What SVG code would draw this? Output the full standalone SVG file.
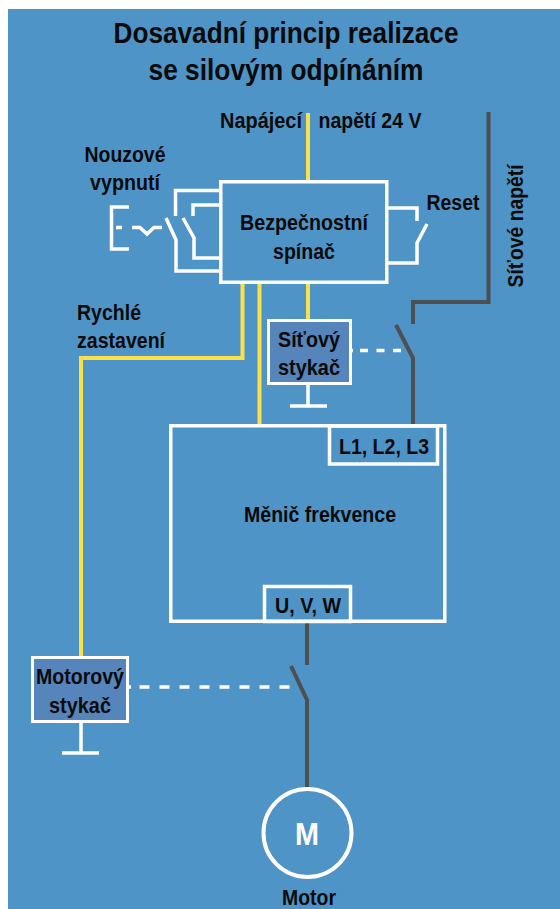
<svg xmlns="http://www.w3.org/2000/svg" width="560" height="909" viewBox="0 0 560 909">
<style>
text{font-family:"Liberation Sans",Arial,sans-serif;font-weight:700;fill:#0a0a0a;font-size:22.500px;text-anchor:middle}
.t{font-size:29px}
.b{fill:none;stroke:#fff;stroke-width:3.5}
.w{fill:none;stroke:#fff;stroke-width:3.5}
.y{fill:none;stroke:#fde047;stroke-width:4}
.g{fill:none;stroke:#4d4f53;stroke-width:4}
.s{fill:#5585bb;stroke:#fff;stroke-width:3}
.d{fill:none;stroke:#fff;stroke-width:3.5}
</style>
<rect x="8" y="9" width="552" height="900" fill="#4f94c7"/>
<text class="t" x="286" y="42.500" textLength="345" lengthAdjust="spacingAndGlyphs">Dosavadní princip realizace</text>
<text class="t" x="286" y="80" textLength="275" lengthAdjust="spacingAndGlyphs">se silovým odpínáním</text>
<g id="connectors">
<path class="y" d="M308 113V181M308 283V320M259.500 283V425M242.500 283V358H81V656"/>
<path class="g" d="M488.500 112V302H413V324M396 325L413 358V424M307 623V665M291 666L307 700V790"/>
<path class="w" d="M219 190.500H175.500V216M219 205H193V216M166 218L176 240V271H219M183 218L194 238V258H219"/>
<path class="w" d="M388 208H417V221M427 224L417 243V263H388"/>
<path class="w" d="M129 207H111.500V249H129M116 227.500H122M132 227.500H140L147 234L154 227.500H162"/>
<path class="d" stroke-dasharray="8 8.500" d="M351 350.500H353M360 350.500H403"/>
<path class="d" stroke-dasharray="10 10" d="M129 687H131M139.500 687H291"/>
<path class="w" d="M308 385V406M290 406H327M81 723V753M62 753H99"/>
</g>
<g id="label-napajeci"><text x="261" y="128" textLength="82" lengthAdjust="spacingAndGlyphs">Napájecí</text><text x="370" y="128" textLength="103" lengthAdjust="spacingAndGlyphs">napětí 24 V</text></g>
<g id="label-nouzove"><text x="125" y="162" textLength="81" lengthAdjust="spacingAndGlyphs">Nouzové</text><text x="125" y="190" textLength="70" lengthAdjust="spacingAndGlyphs">vypnutí</text></g>
<g id="spinac"><rect class="b" x="220.750" y="181.750" width="166" height="100.500"/><text x="304" y="230" textLength="128" lengthAdjust="spacingAndGlyphs">Bezpečnostní</text><text x="304" y="259" textLength="62" lengthAdjust="spacingAndGlyphs">spínač</text></g>
<g id="label-reset"><text x="453" y="210" textLength="53" lengthAdjust="spacingAndGlyphs">Reset</text></g>
<g id="label-sitove"><text transform="translate(523 226) rotate(-90)" textLength="123" lengthAdjust="spacingAndGlyphs">Síťové napětí</text></g>
<g id="label-rychle"><text x="109" y="320" textLength="64" lengthAdjust="spacingAndGlyphs">Rychlé</text><text x="121" y="348" textLength="88" lengthAdjust="spacingAndGlyphs">zastavení</text></g>
<g id="sitovy-stykac"><rect class="s" x="268.500" y="320.500" width="82" height="63"/><text x="309" y="347" textLength="62" lengthAdjust="spacingAndGlyphs">Síťový</text><text x="309" y="375" textLength="62" lengthAdjust="spacingAndGlyphs">stykač</text></g>
<g id="menic"><rect class="b" x="170.750" y="425.750" width="274" height="195.500"/><text x="320" y="521.500" textLength="152" lengthAdjust="spacingAndGlyphs">Měnič frekvence</text></g>
<g id="l123"><rect class="b" x="329.500" y="426" width="108" height="38"/><text x="384" y="454" textLength="90" lengthAdjust="spacingAndGlyphs">L1, L2, L3</text></g>
<g id="uvw"><rect class="b" x="264.500" y="586.500" width="86" height="35"/><text x="308" y="613" textLength="66" lengthAdjust="spacingAndGlyphs">U, V, W</text></g>
<g id="motorovy-stykac"><rect class="s" x="32.500" y="657.500" width="95" height="64"/><text x="80" y="684" textLength="88" lengthAdjust="spacingAndGlyphs">Motorový</text><text x="80" y="712.500" textLength="62" lengthAdjust="spacingAndGlyphs">stykač</text></g>
<g id="motor"><circle cx="307.500" cy="833" r="44" fill="none" stroke="#fff" stroke-width="4"/><text x="307" y="845" textLength="24" lengthAdjust="spacingAndGlyphs" style="fill:#fff;font-size:32px">M</text><text x="309" y="905" textLength="54" lengthAdjust="spacingAndGlyphs">Motor</text></g>
</svg>
